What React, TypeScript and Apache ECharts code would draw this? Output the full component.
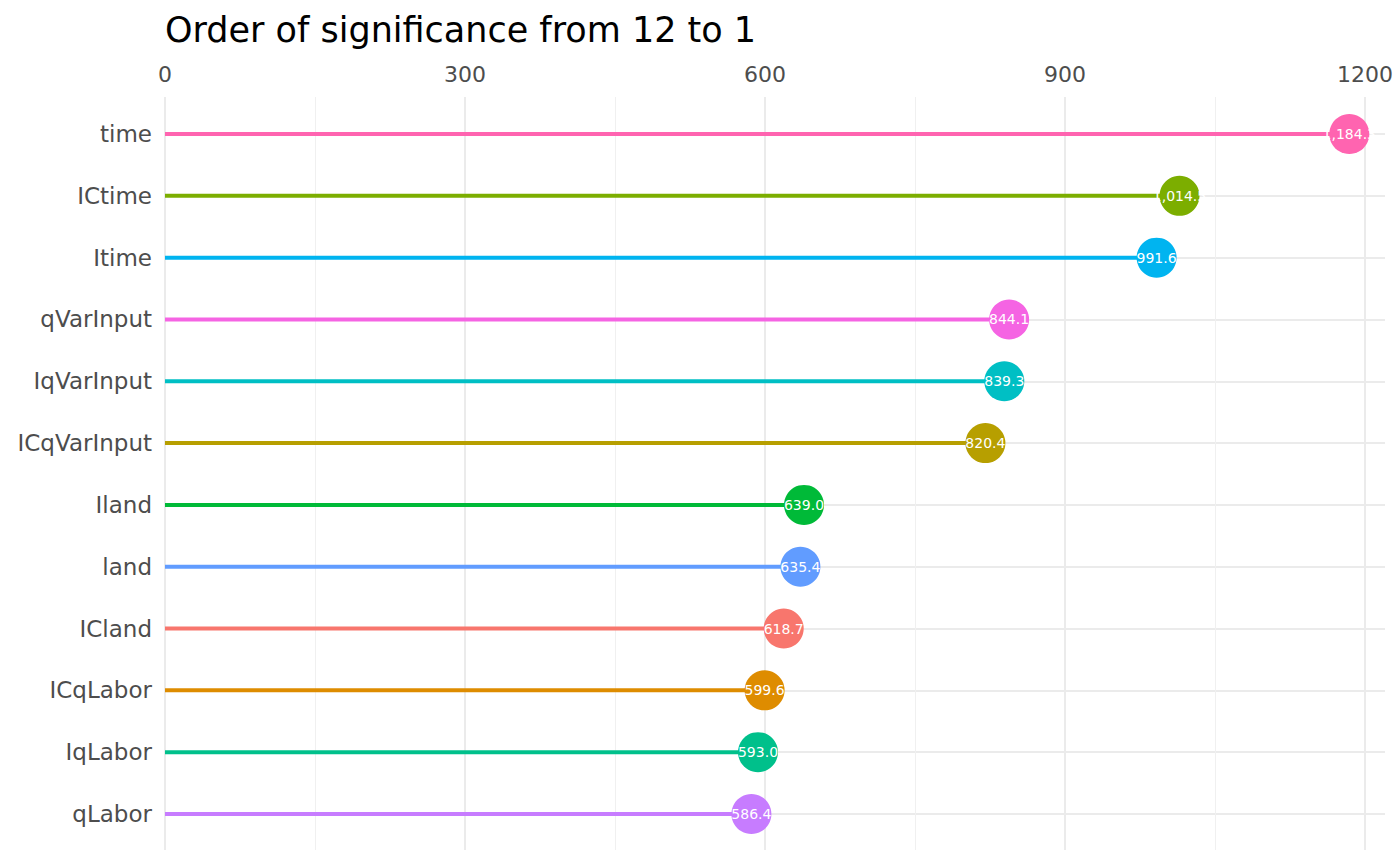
import React, { useEffect, useRef } from "react";
import * as echarts from "echarts";

const categories = ["time", "ICtime", "Itime", "qVarInput", "IqVarInput", "ICqVarInput", "Iland", "land", "ICland", "ICqLabor", "IqLabor", "qLabor"];
const values = [1184.3, 1014.5, 991.6, 844.1, 839.3, 820.4, 639.0, 635.4, 618.7, 599.6, 593.0, 586.4];
const colors = ["#FF64B0", "#7CAE00", "#00B4F0", "#F564E3", "#00BFC4", "#B79F00", "#00BA38", "#619CFF", "#F8766D", "#DE8C00", "#00C08B", "#C77CFF"];
const majorTicks = [0, 300, 600, 900, 1200];
const minorTicks = [150, 450, 750, 1050];
const titleText = "Order of significance from 12 to 1";

const FONT = "DejaVu Sans";
const X_MAX = 1220;

export default function App() {
  const ref = useRef<HTMLDivElement>(null);
  useEffect(() => {
    if (!ref.current) return;
    const chart = echarts.init(ref.current, undefined, { renderer: "svg" });
    // split line colours per tick (ticks at every interval plus the axis max)
    const majorColors = majorTicks.map(() => "#ebebeb").concat(["rgba(0,0,0,0)"]);
    const minorColors: string[] = [];
    for (let v = 0; v <= 1200; v += 150) minorColors.push(minorTicks.includes(v) ? "#f0f0f0" : "rgba(0,0,0,0)");
    minorColors.push("rgba(0,0,0,0)");
    chart.setOption({
      animation: false,
      backgroundColor: "#ffffff",
      textStyle: { fontFamily: FONT },
      title: {
        text: titleText,
        left: 160,
        top: 7,
        textStyle: { fontFamily: FONT, fontSize: 35, fontWeight: "normal", color: "#000000" },
      },
      grid: [
        { left: 165, right: 15, top: 97, bottom: 16 },
        { left: 165, right: 15, top: 134, bottom: 52 },
      ],
      xAxis: [
        {
          gridIndex: 0,
          type: "value",
          position: "top",
          min: 0,
          max: X_MAX,
          interval: 300,
          axisLine: { show: false },
          axisTick: { show: false },
          splitLine: { show: true, lineStyle: { color: majorColors, width: 2 } },
          axisLabel: {
            margin: 12,
            fontSize: 22,
            color: "#4D4D4D",
            fontFamily: FONT,
            formatter: (v: number) => (majorTicks.includes(v) ? String(v) : ""),
          },
        },
        {
          gridIndex: 0,
          type: "value",
          position: "bottom",
          min: 0,
          max: X_MAX,
          interval: 150,
          axisLine: { show: false },
          axisTick: { show: false },
          axisLabel: { show: false },
          splitLine: { show: true, lineStyle: { color: minorColors, width: 1 } },
        },
        { gridIndex: 1, type: "value", min: 0, max: X_MAX, show: false },
      ],
      yAxis: [
        { gridIndex: 0, type: "value", min: 0, max: 1, show: false },
        {
          gridIndex: 1,
          type: "category",
          data: categories,
          inverse: true,
          boundaryGap: false,
          axisLine: { show: false },
          axisTick: { show: false },
          splitLine: { show: true, interval: 0, lineStyle: { color: "#ebebeb", width: 2 } },
          axisLabel: { interval: 0, margin: 13, fontSize: 23, color: "#4D4D4D", fontFamily: FONT },
        },
      ],
      series: [
        {
          type: "bar",
          xAxisIndex: 2,
          yAxisIndex: 1,
          z: 2,
          barWidth: 4,
          silent: true,
          data: values.map((v, i) => ({ value: v, itemStyle: { color: colors[i] } })),
        },
        {
          type: "scatter",
          xAxisIndex: 2,
          yAxisIndex: 1,
          z: 3,
          symbolSize: 40,
          silent: true,
          data: values.map((v, i) => ({ value: [v, categories[i]], itemStyle: { color: colors[i], opacity: 1 } })),
          label: {
            show: true,
            position: "inside",
            color: "#ffffff",
            fontSize: 14,
            fontFamily: FONT,
            formatter: (p: any) =>
              Number(p.value[0]).toLocaleString("en-US", { minimumFractionDigits: 1, maximumFractionDigits: 1 }),
          },
        },
      ],
    });
    return () => chart.dispose();
  }, []);
  return <div ref={ref} style={{ position: "fixed", left: 0, top: 0, width: 1400, height: 866 }} />;
}
